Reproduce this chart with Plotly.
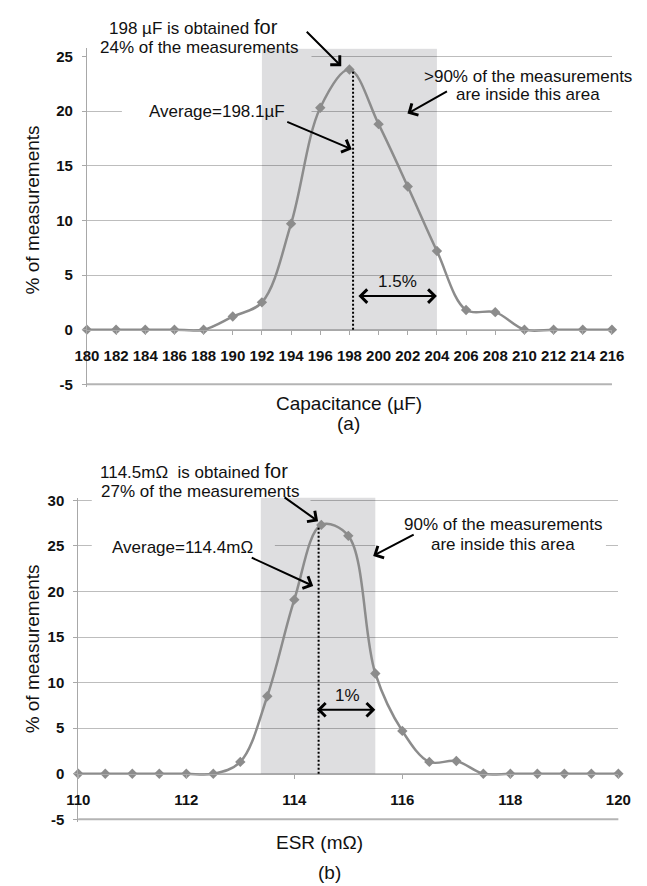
import plotly.graph_objects as go

# ---------------- data ----------------
CAP_X = [180, 182, 184, 186, 188, 190, 192, 194, 196, 198, 200, 202, 204, 206, 208, 210, 212, 214, 216]
CAP_PCT = [0, 0, 0, 0, 0, 1.2, 2.5, 9.7, 20.3, 23.8, 18.8, 13.1, 7.2, 1.8, 1.6, 0, 0, 0, 0]
CAP_AVG = 198.25
CAP_AVG_TOP = 23.6
CAP_BAND = [192, 204]
CAP_BAND_TOP = 25.7

ESR_X = [110, 110.5, 111, 111.5, 112, 112.5, 113, 113.5, 114, 114.5, 115, 115.5, 116, 116.5, 117, 117.5,
         118, 118.5, 119, 119.5, 120]
ESR_PCT = [0, 0, 0, 0, 0, 0, 1.3, 8.5, 19.1, 27.3, 26.1, 11.0, 4.7, 1.3, 1.4, 0, 0, 0, 0, 0, 0]
ESR_AVG = 114.45
ESR_AVG_TOP = 27.1
ESR_BAND = [113.38, 115.5]
ESR_BAND_TOP = 30.3

CAP_XTICKS = [180, 182, 184, 186, 188, 190, 192, 194, 196, 198, 200, 202, 204, 206, 208, 210, 212, 214, 216]
ESR_XTICKS = [110, 112, 114, 116, 118, 120]
Y1_TICKS = [-5, 0, 5, 10, 15, 20, 25]
Y2_TICKS = [-5, 0, 5, 10, 15, 20, 25, 30]

# ---------------- geometry ----------------
W, H = 647, 886
FONT = "Liberation Sans, Arial, sans-serif"
SERIES = "#8c8c8c"
GRID = "#bdbdbd"
AXLINE = "#a8a8a8"


def fx(px):
    return px / W


def fy(py):
    return 1 - py / H


Y1_RANGE = [-5.25, 25.75]
Y2_RANGE = [-5.25, 30.3]
Y1_PX = 11.08
Y2_PX = 9.24
y1_bot = 383.5 + (-5 - Y1_RANGE[0]) * Y1_PX
y2_bot = 824.5 + (-5 - Y2_RANGE[0]) * Y2_PX
y1_dom = [fy(y1_bot), fy(y1_bot - (Y1_RANGE[1] - Y1_RANGE[0]) * Y1_PX)]
y2_dom = [fy(y2_bot), fy(y2_bot - (Y2_RANGE[1] - Y2_RANGE[0]) * Y2_PX)]
X1_DOM = [fx(77), fx(624)]
X2_DOM = [fx(68), fx(630.7)]


def val_pos(dom, rng, v):
    return dom[0] + (dom[1] - dom[0]) * (v - rng[0]) / (rng[1] - rng[0])


fig = go.Figure()

fig.add_trace(go.Scatter(x=CAP_X, y=CAP_PCT, mode="lines+markers", xaxis="x", yaxis="y",
                         line=dict(color=SERIES, width=2.5, shape="spline", smoothing=1),
                         marker=dict(symbol="diamond", size=8, color=SERIES),
                         cliponaxis=False, showlegend=False))
fig.add_trace(go.Scatter(x=[CAP_AVG, CAP_AVG], y=[0, CAP_AVG_TOP], mode="lines", xaxis="x", yaxis="y",
                         line=dict(color="black", width=2, dash="2px,2px"), showlegend=False))

fig.add_trace(go.Scatter(x=ESR_X, y=ESR_PCT, mode="lines+markers", xaxis="x2", yaxis="y2",
                         line=dict(color=SERIES, width=2.5, shape="spline", smoothing=1),
                         marker=dict(symbol="diamond", size=8, color=SERIES),
                         cliponaxis=False, showlegend=False))
fig.add_trace(go.Scatter(x=[ESR_AVG, ESR_AVG], y=[0, ESR_AVG_TOP], mode="lines", xaxis="x2", yaxis="y2",
                         line=dict(color="black", width=2, dash="2px,2px"), showlegend=False))

tickfont = dict(family=FONT, size=15, color="#111111", weight="bold")

common_x = dict(showline=True, linecolor=AXLINE, linewidth=1, ticks="outside", ticklen=4,
                tickcolor=AXLINE, showgrid=False, zeroline=False, tickfont=tickfont,
                tickmode="array", ticklabelstandoff=8)
common_y = dict(showline=True, linecolor=AXLINE, linewidth=1, ticks="outside", ticklen=4,
                tickcolor=AXLINE, showgrid=True, gridcolor=GRID, gridwidth=1, zeroline=False,
                tickfont=tickfont, tickmode="array", ticklabelstandoff=6)

fig.update_layout(
    width=W, height=H, margin=dict(l=0, r=0, t=0, b=0),
    paper_bgcolor="white", plot_bgcolor="white", showlegend=False,
    xaxis=dict(domain=X1_DOM, range=[180, 216], anchor="free",
               position=val_pos(y1_dom, Y1_RANGE, 0),
               tickvals=CAP_XTICKS, ticktext=[str(v) for v in CAP_XTICKS], **common_x),
    yaxis=dict(domain=y1_dom, range=Y1_RANGE, anchor="x",
               tickvals=Y1_TICKS, ticktext=[str(v) for v in Y1_TICKS], **common_y),
    xaxis2=dict(domain=X2_DOM, range=[110, 120], anchor="free",
                position=val_pos(y2_dom, Y2_RANGE, 0),
                tickvals=ESR_XTICKS, ticktext=[str(v) for v in ESR_XTICKS], **common_x),
    yaxis2=dict(domain=y2_dom, range=Y2_RANGE, anchor="x2",
                tickvals=Y2_TICKS, ticktext=[str(v) for v in Y2_TICKS], **common_y),
)

# ---------------- shapes ----------------
BAND_FILL = "rgba(5,5,25,0.135)"
shapes = []
# white text boxes hiding grid lines (drawn under the band)
for xr, yr, x0, x1, y0, y1 in [
    ("x", "y", 180, 195.4, 24.4, 25.75),
    ("x", "y", 182.4, 195.4, 19.1, 20.9),
    ("x2", "y2", 110.25, 114.3, 29.4, 30.3),
    ("x2", "y2", 110.25, 113.64, 24.0, 26.0),
    ("x2", "y2", 115.5, 119.77, 24.0, 26.0),
]:
    shapes.append(dict(type="rect", xref=xr, yref=yr, x0=x0, x1=x1, y0=y0, y1=y1,
                       fillcolor="white", line=dict(width=0), layer="between"))
shapes.append(dict(type="rect", xref="x", yref="y", x0=CAP_BAND[0], x1=CAP_BAND[1], y0=0, y1=CAP_BAND_TOP,
                   fillcolor=BAND_FILL, line=dict(width=0), layer="between"))
shapes.append(dict(type="rect", xref="x2", yref="y2", x0=ESR_BAND[0], x1=ESR_BAND[1], y0=0, y1=ESR_BAND_TOP,
                   fillcolor=BAND_FILL, line=dict(width=0), layer="between"))
# grid line at the lowest tick (-5), which plotly leaves out at the plot edge
for dom_x, dom_y, rng, lo in [(X1_DOM, y1_dom, Y1_RANGE, Y1_TICKS[0]), (X2_DOM, y2_dom, Y2_RANGE, Y2_TICKS[0])]:
    yp = val_pos(dom_y, rng, lo)
    shapes.append(dict(type="line", xref="paper", yref="paper", x0=dom_x[0], x1=dom_x[1], y0=yp, y1=yp,
                       line=dict(color="#b4b4b4", width=2), layer="above"))
fig.update_layout(shapes=shapes)

# ---------------- annotations ----------------
ann = []


def text(px, py, s, size=17, angle=0):
    ann.append(dict(x=fx(px), y=fy(py), xref="paper", yref="paper", text=s, showarrow=False,
                    xanchor="center", yanchor="middle", textangle=angle,
                    font=dict(family=FONT, size=size, color="#111111")))


def arrow(xr, yr, x, y, ax, ay, both=False):
    d = dict(x=x, y=y, xref=xr, yref=yr, ax=ax, ay=ay, text="", showarrow=True,
             arrowhead=4, arrowsize=1.3, arrowwidth=2, arrowcolor="black", standoff=0, startstandoff=0)
    if both:
        d.update(arrowside="end+start", startarrowhead=4, startarrowsize=1.3)
    ann.append(d)


FOR = '<span style="font-size:20px">for</span>'
# top chart
text(188.5, 21, "198\u00a0µF is obtained " + FOR)
text(194, 42, "24% of the measurements")
text(213, 107, "Average=198.1µF")
text(537, 71, "&gt;90% of the measurements")
text(537, 90, "are inside this area")
text(401, 279, "1.5%")
text(350, 403, "Capacitance (µF)", size=19)
text(350, 423, "(a)", size=19)
text(20, 207, "% of measurements", size=19, angle=-90)
arrow("x", "y", 197.44, 24.1, -36, -36)
arrow("x", "y", 198.16, 16.5, -66, -28)
arrow("x", "y", 201.98, 19.77, 41, -23)
arrow("x", "y", CAP_BAND[1], 3.07, -80, 0, both=True)

# bottom chart
text(188.5, 471, "114.5mΩ\u00a0\u00a0is obtained " + FOR)
text(195, 492, "27% of the measurements")
text(177, 549, "Average=114.4mΩ")
text(511, 526, "90% of the measurements")
text(511, 546, "are inside this area")
text(348, 699, "1%")
text(319, 848, "ESR (mΩ)", size=19)
text(330, 878, "(b)", size=19)
text(20, 652, "% of measurements", size=19, angle=-90)
arrow("x2", "y2", 114.44, 27.7, -35, -25)
arrow("x2", "y2", 114.35, 20.6, -63, -29)
arrow("x2", "y2", 115.46, 23.9, 42, -22)
arrow("x2", "y2", ESR_BAND[1], 7.03, -60, 0, both=True)

fig.update_layout(annotations=ann)

fig.write_html("out.html")
